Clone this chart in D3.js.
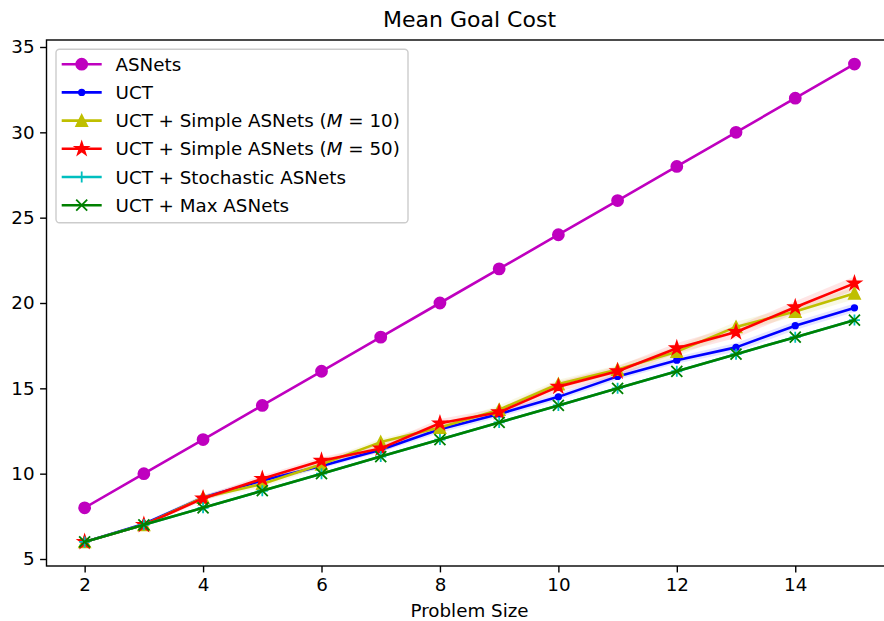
<!DOCTYPE html>
<html>
<head>
<meta charset="utf-8">
<script src="https://cdn.jsdelivr.net/npm/d3@7"></script>
<style>
  html, body { margin: 0; padding: 0; background: #fff; }
  svg { display: block; font-family: "DejaVu Sans", sans-serif; }
</style>
</head>
<body>
<svg id="chart" width="884" height="621"></svg>
<script>
// ---- data ----
const problemSizes = [2, 3, 4, 5, 6, 7, 8, 9, 10, 11, 12, 13, 14, 15];
const asnets       = [8, 10, 12, 14, 16, 18, 20, 22, 24, 26, 28, 30, 32, 34];
const uct          = [6.0, 7.05, 8.6, 9.6, 10.45, 11.4, 12.6, 13.5, 14.5, 15.7, 16.65, 17.4, 18.67, 19.72];
const uctErr       = [0.02, 0.1, 0.15, 0.15, 0.15, 0.15, 0.2, 0.2, 0.2, 0.2, 0.2, 0.25, 0.25, 0.25];
const simple10     = [6.0, 7.0, 8.6, 9.4, 10.55, 11.85, 12.7, 13.75, 15.25, 16.1, 17.15, 18.6, 19.5, 20.57];
const simple10Err  = [0.02, 0.1, 0.15, 0.2, 0.2, 0.2, 0.2, 0.25, 0.25, 0.25, 0.3, 0.3, 0.3, 0.35];
const simple50     = [6.0, 7.0, 8.55, 9.7, 10.76, 11.48, 12.95, 13.6, 15.1, 16.0, 17.35, 18.3, 19.75, 21.15];
const simple50Err  = [0.02, 0.1, 0.15, 0.2, 0.2, 0.25, 0.25, 0.25, 0.3, 0.3, 0.3, 0.35, 0.35, 0.4];
const stochastic   = [6, 7, 8, 9, 10, 11, 12, 13, 14, 15, 16, 17, 18, 19];
const maxAsnets    = [6, 7, 8, 9, 10, 11, 12, 13, 14, 15, 16, 17, 18, 19];
const xTicks = [2, 4, 6, 8, 10, 12, 14];
const yTicks = [5, 10, 15, 20, 25, 30, 35];
const seriesNames = ["ASNets", "UCT", "UCT + Simple ASNets (", "UCT + Simple ASNets (", "UCT + Stochastic ASNets", "UCT + Max ASNets"];

// ---- layout ----
const svg = d3.select("#chart");
const plot = { left: 46.5, right: 892.6, top: 40, bottom: 566 };
const x = d3.scaleLinear().domain([1.356, 15.644]).range([plot.left, plot.right]);
const y = d3.scaleLinear().domain([4.59, 35.41]).range([plot.bottom, plot.top]);
const FS = 18.3;
const LW = 2.6;
const EW = 1.8;

// ---- marker drawers ----
function markerPath(type, s) {
  const h = s / 2;
  if (type === "triangle") {
    return `M0,${-h}L${h},${h}L${-h},${h}Z`;
  }
  if (type === "star") {
    const R = h, r = h * 0.381966;
    let p = "";
    for (let i = 0; i < 10; i++) {
      const rad = i % 2 === 0 ? R : r;
      const a = -Math.PI / 2 + i * Math.PI / 5;
      p += (i === 0 ? "M" : "L") + (rad * Math.cos(a)).toFixed(3) + "," + (rad * Math.sin(a)).toFixed(3);
    }
    return p + "Z";
  }
  if (type === "plus") return `M${-h},0L${h},0M0,${-h}L0,${h}`;
  if (type === "x") return `M${-h},${-h}L${h},${h}M${-h},${h}L${h},${-h}`;
  return "";
}
function drawMarker(g, type, color, cx, cy) {
  if (type === "circle") {
    g.append("circle").attr("cx", cx).attr("cy", cy).attr("r", 5.5)
      .attr("fill", color).attr("stroke", color).attr("stroke-width", EW);
  } else if (type === "dot") {
    g.append("circle").attr("cx", cx).attr("cy", cy).attr("r", 2.75)
      .attr("fill", color).attr("stroke", color).attr("stroke-width", EW);
  } else if (type === "plus" || type === "x") {
    g.append("path").attr("transform", `translate(${cx},${cy})`)
      .attr("d", markerPath(type, 11)).attr("fill", "none")
      .attr("stroke", color).attr("stroke-width", EW);
  } else {
    g.append("path").attr("transform", `translate(${cx},${cy})`)
      .attr("d", markerPath(type, type === "star" ? 13 : 11)).attr("fill", color)
      .attr("stroke", color).attr("stroke-width", EW).attr("stroke-linejoin", "miter");
  }
}

const series = [
  { vals: asnets,     err: null,        color: "#bf00bf", marker: "circle" },
  { vals: uct,        err: uctErr,      color: "#0000ff", marker: "dot" },
  { vals: simple10,   err: simple10Err, color: "#bfbf00", marker: "triangle", m: "10" },
  { vals: simple50,   err: simple50Err, color: "#ff0000", marker: "star", m: "50" },
  { vals: stochastic, err: null,        color: "#00bfbf", marker: "plus" },
  { vals: maxAsnets,  err: null,        color: "#008000", marker: "x" }
];

const clip = svg.append("defs").append("clipPath").attr("id", "clip")
  .append("rect").attr("x", plot.left).attr("y", plot.top)
  .attr("width", plot.right - plot.left).attr("height", plot.bottom - plot.top);

const dataG = svg.append("g").attr("clip-path", "url(#clip)");

// bands
series.forEach(s => {
  if (!s.err) return;
  const area = d3.area()
    .x((d, i) => x(problemSizes[i]))
    .y0((d, i) => y(d - s.err[i]))
    .y1((d, i) => y(d + s.err[i]));
  dataG.append("path").attr("d", area(s.vals))
    .attr("fill", s.color).attr("fill-opacity", 0.1).attr("stroke", "none");
});

// lines and markers
series.forEach(s => {
  const line = d3.line().x((d, i) => x(problemSizes[i])).y(d => y(d));
  const g = dataG.append("g");
  g.append("path").attr("d", line(s.vals)).attr("fill", "none")
    .attr("stroke", s.color).attr("stroke-width", LW).attr("stroke-linejoin", "round")
    .attr("stroke-linecap", "square");
  s.vals.forEach((v, i) => drawMarker(g, s.marker, s.color, x(problemSizes[i]), y(v)));
});

// ---- axes ----
const xAxis = d3.axisBottom(x).tickValues(xTicks).tickSize(6.4).tickPadding(5.5).tickFormat(d3.format("d"));
const yAxis = d3.axisLeft(y).tickValues(yTicks).tickSize(6.4).tickPadding(5.5).tickFormat(d3.format("d"));
const gx = svg.append("g").attr("transform", `translate(0,${plot.bottom})`).call(xAxis);
const gy = svg.append("g").attr("transform", `translate(${plot.left},0)`).call(yAxis);
[gx, gy].forEach(g => {
  g.select(".domain").remove();
  g.selectAll(".tick line").attr("stroke", "#000").attr("stroke-width", 1.4);
  g.selectAll(".tick text").attr("fill", "#000").style("font-size", FS + "px")
    .style("font-family", "'DejaVu Sans', sans-serif");
});

// spines
svg.append("rect").attr("x", plot.left).attr("y", plot.top)
  .attr("width", plot.right - plot.left).attr("height", plot.bottom - plot.top)
  .attr("fill", "none").attr("stroke", "#000").attr("stroke-width", 1.4);

// title & labels
svg.append("text").attr("x", (plot.left + plot.right) / 2).attr("y", 26.7)
  .attr("text-anchor", "middle").style("font-size", "22px").text("Mean Goal Cost");
svg.append("text").attr("x", (plot.left + plot.right) / 2).attr("y", 617)
  .attr("text-anchor", "middle").style("font-size", FS + "px").text("Problem Size");

// ---- legend ----
const leg = svg.append("g");
leg.append("rect").attr("x", 56).attr("y", 49.3).attr("width", 352).attr("height", 173.4)
  .attr("rx", 3.5).attr("ry", 3.5)
  .attr("fill", "#fff").attr("fill-opacity", 0.8).attr("stroke", "#cccccc").attr("stroke-width", 1.4);
const rowY = d3.scaleLinear().domain([0, 5]).range([64.2, 205.2]);
series.forEach((s, i) => {
  const cy = rowY(i);
  const g = leg.append("g");
  g.append("line").attr("x1", 61.7).attr("x2", 101.7).attr("y1", cy).attr("y2", cy)
    .attr("stroke", s.color).attr("stroke-width", LW);
  drawMarker(g, s.marker, s.color, 81.7, cy);
  const t = g.append("text").attr("x", 115.5).attr("y", cy + 6.6).style("font-size", FS + "px");
  if (s.m) {
    t.append("tspan").text(seriesNames[i]);
    t.append("tspan").style("font-style", "italic").text("M");
    t.append("tspan").text(" = " + s.m + ")");
  } else {
    t.text(seriesNames[i]);
  }
});
</script>
</body>
</html>
